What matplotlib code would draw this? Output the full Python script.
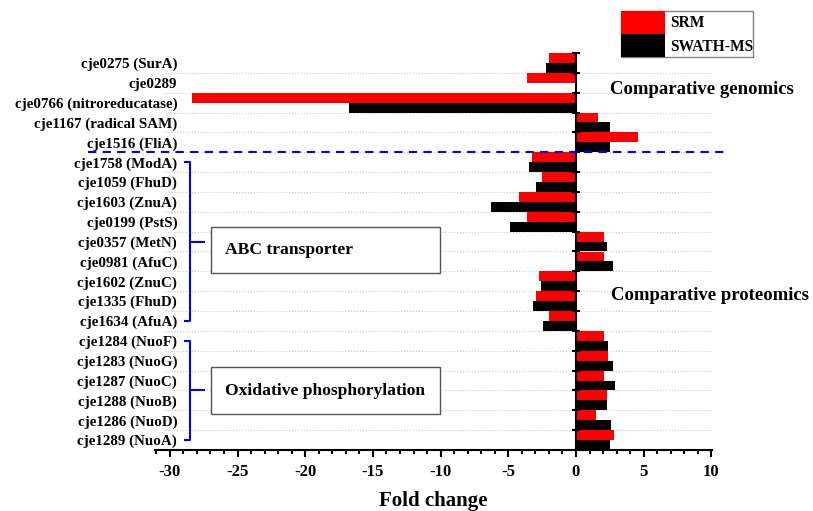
import numpy as np
import matplotlib
matplotlib.use("Agg")
import matplotlib.pyplot as plt
from matplotlib.patches import Patch, Rectangle
import matplotlib.transforms as mtransforms

plt.rcParams['axes.unicode_minus'] = False

# gene labels, top to bottom
genes = ['cje0275 (SurA)', 'cje0289', 'cje0766 (nitroreducatase)', 'cje1167 (radical SAM)',
         'cje1516 (FliA)', 'cje1758 (ModA)', 'cje1059 (FhuD)', 'cje1603 (ZnuA)',
         'cje0199 (PstS)', 'cje0357 (MetN)', 'cje0981 (AfuC)', 'cje1602 (ZnuC)',
         'cje1335 (FhuD)', 'cje1634 (AfuA)', 'cje1284 (NuoF)', 'cje1283 (NuoG)',
         'cje1287 (NuoC)', 'cje1288 (NuoB)', 'cje1286 (NuoD)', 'cje1289 (NuoA)']

# fold change values
srm = [-2.0, -3.6, -28.4, 1.65, 4.55, -3.25, -2.5, -4.2, -3.65, 2.05,
       2.1, -2.75, -2.95, -2.0, 2.05, 2.35, 2.05, 2.3, 1.45, 2.8]
swath = [-2.25, 0.0, -16.8, 2.5, 2.55, -3.45, -2.95, -6.25, -4.9, 2.3,
         2.7, -2.6, -3.2, -2.45, 2.4, 2.7, 2.85, 2.3, 2.6, 2.5]

series_names = ['SRM', 'SWATH-MS']
series_colors = ['#FF0000', '#000000']

# functional groups (first row, last row, name)
groups = [(5, 13, 'ABC transporter'), (14, 19, 'Oxidative phosphorylation')]
n_genomics = 5  # rows from comparative genomics

W, H = 813, 511
font = dict(family='Liberation Serif', weight='bold')

fig = plt.figure(figsize=(W / 100, H / 100), dpi=100)
ax = fig.add_axes([155 / W, 1 - 450 / H, 557 / W, 397 / H])

y = np.arange(len(genes))
ax.barh(y - 0.25, srm, height=0.5, color=series_colors[0], zorder=3)
ax.barh(y + 0.25, swath, height=0.5, color=series_colors[1], zorder=3)

ax.set_ylim(len(genes) - 0.5, -0.5)
ax.set_xlim(-31.1, 10.05)

# dotted row separators
bounds = np.arange(len(genes)) - 0.5
for b in bounds[1:]:
    ax.axhline(b, xmin=10 / 557, xmax=1, color='#c8c8c8', ls=':', lw=0.8, zorder=1)

# zero axis with ticks at row boundaries
ax.axvline(0, color='black', lw=1.5, zorder=5)
ax.plot(np.zeros(len(bounds)), bounds, ls='none', marker='_', ms=6, mew=1.5,
        color='black', zorder=5, clip_on=False)

for s in ['left', 'right', 'top']:
    ax.spines[s].set_visible(False)
ax.spines['bottom'].set_linewidth(1.5)

ax.set_xticks(np.arange(-30, 11, 5))
ax.set_xticks(np.arange(-31, 11, 1), minor=True)
ax.tick_params(axis='x', which='major', direction='out', length=5, width=1.5, pad=5)
ax.tick_params(axis='x', which='minor', direction='out', length=3, width=1.5)
for lab in ax.get_xticklabels():
    lab.set_fontfamily('Liberation Serif')
    lab.set_fontweight('bold')
    lab.set_fontsize(12)

ax.set_yticks(y)
ax.set_yticklabels(genes, fontsize=10.8, **font)
ax.tick_params(axis='y', length=0, pad=-16)

ax.set_xlabel('Fold change', fontsize=15, labelpad=8, **font)

# separator between genomics and proteomics
trans = mtransforms.blended_transform_factory(ax.transAxes, ax.transData)
ax.plot([-0.12, 1.029], [n_genomics - 0.5] * 2, color='#0000FF', lw=1.5,
        ls=(0, (4, 3)), transform=trans, clip_on=False, zorder=6)

# brackets and group boxes
bx, hook, nub = 35 / 557, 6 / 557, 15 / 557
for (r0, r1, name), (box_top, box_bot) in zip(groups, [(227, 273), (367, 414)]):
    ax.plot([bx - hook, bx, bx, bx - hook], [r0, r0, r1, r1], color='#0000FF', lw=1.5,
            transform=trans, clip_on=False, solid_capstyle='butt')
    mid = (r0 + r1) / 2
    ax.plot([bx, bx + nub], [mid, mid], color='#0000FF', lw=1.5,
            transform=trans, clip_on=False, solid_capstyle='butt')
    fig.add_artist(Rectangle((211 / W, 1 - box_bot / H), 229 / W, (box_bot - box_top) / H,
                             transform=fig.transFigure, facecolor='white',
                             edgecolor='#555555', lw=1.0, zorder=2))
    fig.text(225 / W, 1 - (box_top + box_bot) / 2 / H, name, fontsize=12.6, va='center',
             ha='left', zorder=3, **font)

fig.text(610 / W, 1 - 90 / H, 'Comparative genomics', fontsize=13.5, va='center', **font)
fig.text(611 / W, 1 - 296 / H, 'Comparative proteomics', fontsize=13.5, va='center', **font)

handles = [Patch(facecolor=c, edgecolor='none') for c in series_colors]
leg = ax.legend(handles, series_names, loc='upper left',
                bbox_to_anchor=(621 / W, 1 - 11 / H), bbox_transform=fig.transFigure,
                fancybox=False, framealpha=1, edgecolor='#808080', borderpad=0,
                labelspacing=0, handlelength=2.83, handleheight=1.9, handletextpad=0.3,
                borderaxespad=0, prop=dict(family='Liberation Serif', weight='bold', size=11.2))
leg.get_frame().set_linewidth(1.0)

fig.savefig('out.png', dpi=100)
